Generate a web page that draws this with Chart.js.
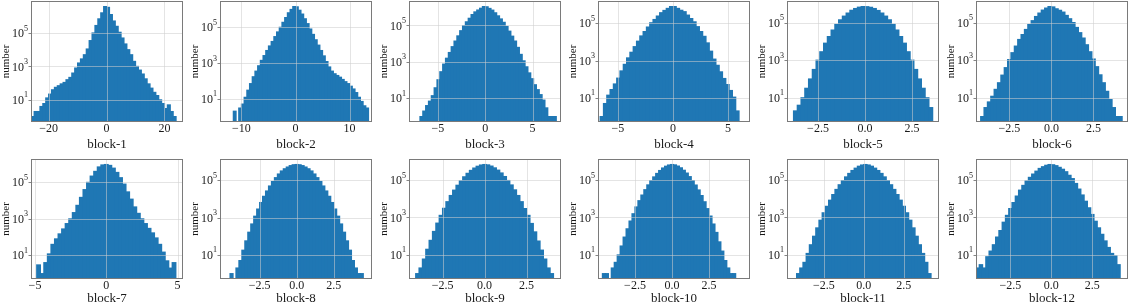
<!DOCTYPE html>
<html>
<head>
<meta charset="utf-8">
<script src="https://cdn.jsdelivr.net/npm/chart.js@4.4.0/dist/chart.umd.min.js"></script>
<style>
  body { margin: 0; background: #fff; width: 1130px; height: 306px; position: relative; overflow: hidden; }
  canvas { position: absolute; }
</style>
</head>
<body>
<script>
/* ── Histogram data: bin start, bin width, counts per block ───── */
const start1 = -26,   width1 = 1;
const counts1 = [1, 2, 2, 4, 6, 13, 22, 40, 56, 70, 90, 110, 160, 220, 400, 800, 1600, 2800, 5000, 11000,
  35000, 100000, 280000, 700000, 1600000, 3800000, 3400000, 1260000, 520000, 250000, 110000, 50000, 22000,
  10000, 5000, 2000, 1000, 600, 350, 180, 90, 50, 28, 18, 10, 6, 3, 5, 2, 1];

const start2 = -11.5, width2 = 0.5;
const counts2 = [2, 0, 3, 5, 12, 30, 70, 170, 350, 700, 1400, 2600, 5000, 9000, 16000, 30000, 55000, 100000,
  190000, 350000, 650000, 1000000, 1450000, 1400000, 900000, 550000, 300000, 160000, 80000, 40000, 20000,
  10000, 5000, 2500, 1200, 600, 350, 250, 200, 160, 120, 90, 70, 50, 35, 22, 12, 7, 4, 3];

const start3 = -6.9,  width3 = 0.3;
const counts3 = [1, 2, 4, 7, 14, 38, 105, 290, 760, 1600, 3300, 6900, 14000, 27000, 52000, 98000, 160000,
  250000, 400000, 560000, 710000, 890000, 1100000, 1070000, 870000, 700000, 500000, 340000, 230000, 150000,
  89000, 49000, 26000, 14000, 6300, 2600, 1150, 540, 250, 120, 56, 30, 16, 8, 3, 1, 1, 1];

const start4 = -6.6,  width4 = 0.3;
const counts4 = [1, 5, 14, 28, 56, 115, 280, 630, 1400, 2800, 5600, 11000, 21000, 36000, 63000, 107000,
  160000, 245000, 370000, 490000, 630000, 790000, 790000, 630000, 500000, 420000, 275000, 180000, 120000,
  66000, 36000, 20000, 8900, 3200, 1200, 560, 250, 110, 52, 25, 11, 2];

const start5 = -3.8,  width5 = 0.2;
const counts5 = [2, 4, 10, 32, 100, 320, 1000, 2800, 8000, 18000, 40000, 80000, 140000, 220000, 320000,
  450000, 560000, 660000, 710000, 700000, 650000, 560000, 440000, 320000, 220000, 140000, 80000, 40000,
  18000, 8000, 2800, 1000, 320, 100, 32, 10, 3];

const start6 = -4.2,  width6 = 0.2;
const counts6 = [1, 3, 6, 12, 28, 63, 160, 400, 1070, 2500, 5600, 12600, 23000, 43000, 79000, 126000,
  210000, 320000, 460000, 590000, 710000, 680000, 540000, 450000, 360000, 240000, 160000, 100000, 55000,
  29000, 15000, 6600, 2800, 1150, 450, 166, 63, 22, 8, 3, 1, 1];

const start7 = -4.875, width7 = 0.25;
const counts7 = [3, 1, 4, 12, 40, 80, 150, 280, 550, 1000, 2200, 5500, 15000, 40000, 100000, 220000, 400000,
  700000, 900000, 950000, 850000, 600000, 350000, 180000, 80000, 30000, 12000, 4500, 2000, 1000, 550, 300,
  170, 90, 40, 15, 5, 2, 4];

const start8 = -4.5,  width8 = 0.2;
const counts8 = [1, 0, 2, 5, 18, 57, 166, 460, 1200, 2900, 6500, 14000, 27000, 50000, 87000, 140000, 220000,
  320000, 420000, 520000, 620000, 690000, 710000, 690000, 620000, 520000, 420000, 320000, 220000, 140000,
  87000, 50000, 27000, 14000, 6500, 2900, 1200, 460, 166, 57, 18, 5, 2, 1, 1];

const start9 = -4.1,  width9 = 0.2;
const counts9 = [1, 2, 6, 20, 60, 180, 500, 1300, 3100, 7000, 15000, 29000, 53000, 92000, 150000, 230000,
  330000, 440000, 550000, 640000, 680000, 650000, 560000, 450000, 340000, 240000, 155000, 95000, 55000,
  30000, 15000, 7000, 3000, 1300, 480, 170, 55, 18, 6, 2, 1];

const start10 = -4.7, width10 = 0.2;
const counts10 = [1, 1, 0, 2, 4, 10, 30, 90, 250, 650, 1600, 3700, 8000, 16000, 31000, 56000, 95000, 150000,
  230000, 330000, 450000, 560000, 650000, 690000, 660000, 570000, 460000, 340000, 240000, 155000, 95000,
  55000, 30000, 15000, 7000, 3000, 1200, 450, 160, 50, 16, 5, 2, 1, 1];

const start11 = -4.2, width11 = 0.2;
const counts11 = [1, 2, 4, 12, 35, 100, 280, 720, 1800, 4000, 8500, 17000, 32000, 57000, 95000, 150000,
  230000, 330000, 440000, 560000, 650000, 690000, 650000, 560000, 440000, 330000, 230000, 150000, 95000,
  57000, 32000, 17000, 8500, 4000, 1800, 720, 280, 100, 35, 12, 4, 1];

const start12 = -4.6, width12 = 0.2;
const counts12 = [2, 3, 2, 8, 16, 35, 90, 200, 560, 1300, 3000, 6300, 14000, 29000, 52000, 91000, 140000,
  210000, 300000, 420000, 520000, 620000, 680000, 660000, 590000, 480000, 380000, 280000, 180000, 120000,
  66000, 33000, 16000, 7400, 3300, 1450, 630, 280, 126, 56, 25, 12, 9, 3];

/* ── Axis limits and ticks ─────────────────────────────────────── */
const xLimits = [[-26.1, 26.4], [-13.97, 14.15], [-8.06, 8.0], [-6.8, 7.0], [-4.15, 3.94], [-4.48, 4.55],
                 [-5.28, 5.38], [-5.18, 5.09], [-4.5, 4.55], [-5.0, 5.27], [-4.8, 4.7], [-4.6, 4.68]];
const xTicksWide  = [-20, 0, 20];
const xTicksMid   = [-10, 0, 10];
const xTicksFive  = [-5, 0, 5];
const xTicksHalf  = [-2.5, 0, 2.5];
const yTickValues = [10, 1000, 100000];
const yTickExps   = ["1", "3", "5"];
const blockNames  = ["block-1", "block-2", "block-3", "block-4", "block-5", "block-6",
                     "block-7", "block-8", "block-9", "block-10", "block-11", "block-12"];

const panels = [
  { start: start1,  width: width1,  counts: counts1,  ticks: xTicksWide, dec: 0 },
  { start: start2,  width: width2,  counts: counts2,  ticks: xTicksMid,  dec: 0 },
  { start: start3,  width: width3,  counts: counts3,  ticks: xTicksFive, dec: 0 },
  { start: start4,  width: width4,  counts: counts4,  ticks: xTicksFive, dec: 0 },
  { start: start5,  width: width5,  counts: counts5,  ticks: xTicksHalf, dec: 1 },
  { start: start6,  width: width6,  counts: counts6,  ticks: xTicksHalf, dec: 1 },
  { start: start7,  width: width7,  counts: counts7,  ticks: xTicksFive, dec: 0 },
  { start: start8,  width: width8,  counts: counts8,  ticks: xTicksHalf, dec: 1 },
  { start: start9,  width: width9,  counts: counts9,  ticks: xTicksHalf, dec: 1 },
  { start: start10, width: width10, counts: counts10, ticks: xTicksHalf, dec: 1 },
  { start: start11, width: width11, counts: counts11, ticks: xTicksHalf, dec: 1 },
  { start: start12, width: width12, counts: counts12, ticks: xTicksHalf, dec: 1 },
];

/* ── Style ─────────────────────────────────────────────────────── */
const SERIF     = '"Liberation Serif", "Times New Roman", serif';
const BAR_BLUE  = "#1f77b4";
const GRID_COL  = "rgba(205,205,205,0.55)";
const TEXT_COL  = "#1a1a1a";
const FRAME_COL = "#7a7a7a";

const framePlugin = {
  id: "frame",
  afterDraw(chart) {
    const { ctx, chartArea: a } = chart;
    ctx.save();
    ctx.strokeStyle = FRAME_COL;
    ctx.lineWidth = 1;
    ctx.strokeRect(Math.round(a.left) + 0.5, Math.round(a.top) + 0.5,
                   Math.round(a.right - a.left) - 1, Math.round(a.bottom - a.top) - 1);
    ctx.restore();
  }
};

// grid over the bars, only at the labelled ticks
function gridPlugin(xTicks) {
  return {
    id: "gridOver",
    afterDatasetsDraw(chart) {
      const { ctx, chartArea: a, scales: { x, y } } = chart;
      ctx.save();
      ctx.strokeStyle = GRID_COL;
      ctx.lineWidth = 1;
      ctx.beginPath();
      xTicks.forEach(v => {
        const px = Math.round(x.getPixelForValue(v)) + 0.5;
        ctx.moveTo(px, a.top); ctx.lineTo(px, a.bottom);
      });
      yTickValues.forEach(v => {
        const py = Math.round(y.getPixelForValue(v)) + 0.5;
        ctx.moveTo(a.left, py); ctx.lineTo(a.right, py);
      });
      ctx.stroke();
      ctx.restore();
    }
  };
}

// "10" with a raised exponent, like matplotlib's log tick labels, plus a short tick mark
const yLabelPlugin = {
  id: "yLabels",
  afterDraw(chart) {
    const { ctx, chartArea: a, scales: { y } } = chart;
    ctx.save();
    ctx.fillStyle = TEXT_COL;
    ctx.textAlign = "right";
    ctx.textBaseline = "middle";
    yTickValues.forEach((v, k) => {
      const py = y.getPixelForValue(v);
      const xr = a.left - 3;
      ctx.font = `8px ${SERIF}`;
      const ew = ctx.measureText(yTickExps[k]).width;
      ctx.fillText(yTickExps[k], xr, py - 4.5);
      ctx.font = `12px ${SERIF}`;
      ctx.fillText("10", xr - ew, py + 1);

      ctx.strokeStyle = "#666";
      ctx.lineWidth = 0.8;
      ctx.beginPath();
      ctx.moveTo(a.left - 2.5, Math.round(py) + 0.5);
      ctx.lineTo(a.left, Math.round(py) + 0.5);
      ctx.stroke();
    });
    ctx.restore();
  }
};

function fmtTick(v, dec) {
  const s = Math.abs(v).toFixed(dec);
  return v < 0 ? "\u2212" + s : s;
}

function makePanel(p, i) {
  const row = i < 6 ? 0 : 1;
  const col = i % 6;
  const cw = 189;
  const ch = row === 0 ? 152 : 148;
  const areaH = row === 0 ? 121 : 120;

  const cv = document.createElement("canvas");
  cv.width = cw; cv.height = ch;
  cv.style.width = cw + "px"; cv.style.height = ch + "px";
  cv.style.left = (col * 189) + "px";
  cv.style.top  = (row === 0 ? 0 : 158) + "px";
  document.body.appendChild(cv);

  const data = p.counts.map((c, k) => ({ x: p.start + p.width * (k + 0.5), y: c }));
  const lp = Math.log10(Math.max(...p.counts));

  new Chart(cv, {
    type: "bar",
    data: {
      datasets: [{
        data,
        backgroundColor: BAR_BLUE,
        borderWidth: 0,
        barPercentage: 1,
        categoryPercentage: 1.08,
        inflateAmount: 0.5,
        grouped: false,
      }],
    },
    options: {
      responsive: false,
      animation: false,
      devicePixelRatio: 1,
      layout: { padding: { left: 0, right: 6, top: 1, bottom: 0 } },
      plugins: { legend: { display: false }, tooltip: { enabled: false } },
      scales: {
        x: {
          type: "linear",
          min: xLimits[i][0], max: xLimits[i][1],
          offset: false,
          afterBuildTicks: s => { s.ticks = p.ticks.map(v => ({ value: v })); },
          afterFit: s => { s.height = ch - 1 - areaH; },
          ticks: { padding: 0, color: TEXT_COL, font: { family: SERIF, size: 12 },
                   maxRotation: 0, autoSkip: false, callback: v => fmtTick(v, p.dec) },
          grid: { display: false, drawTicks: false },
          border: { display: false },
          title: { display: true, text: blockNames[i], color: TEXT_COL,
                   font: { family: SERIF, size: 13 }, padding: 0 },
        },
        y: {
          type: "logarithmic",
          min: Math.pow(10, -0.05 * lp), max: Math.pow(10, 1.05 * lp),
          afterBuildTicks: s => { s.ticks = yTickValues.map(v => ({ value: v })); },
          afterFit: s => { s.width = 31; },
          ticks: { display: false },
          grid: { display: false, drawTicks: false },
          border: { display: false },
          title: { display: true, text: "number", color: TEXT_COL,
                   font: { family: SERIF, size: 11 }, padding: 0 },
        },
      },
    },
    plugins: [gridPlugin(p.ticks), framePlugin, yLabelPlugin],
  });
}

panels.forEach(makePanel);
</script>
</body>
</html>
